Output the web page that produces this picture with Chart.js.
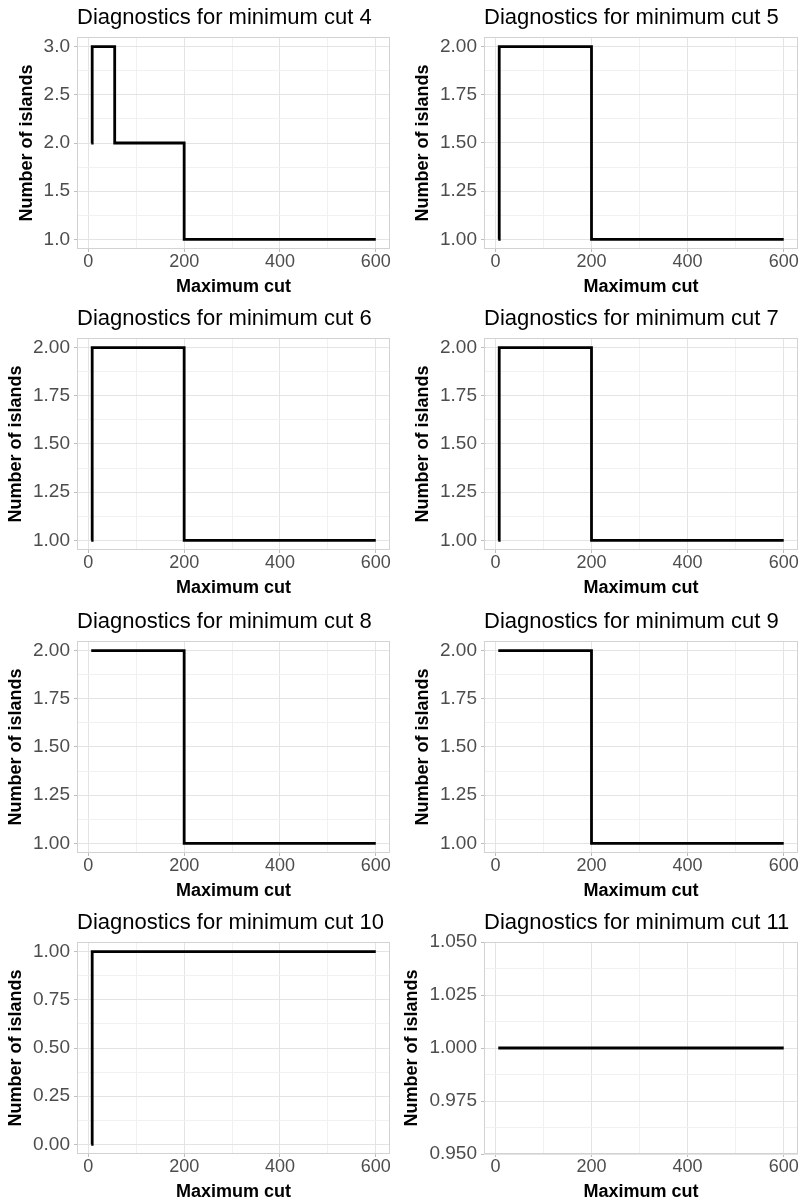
<!DOCTYPE html>
<html>
<head>
<meta charset="utf-8">
<script src="https://cdn.jsdelivr.net/npm/chart.js@4.4.1/dist/chart.umd.min.js"></script>
<style>
  html, body { margin: 0; padding: 0; background: #fff; }
  body { width: 805px; height: 1201px; position: relative; overflow: hidden; }
  canvas { position: absolute; }
</style>
</head>
<body>
<script>
// Data
const minCuts = [4, 5, 6, 7, 8, 9, 10, 11];
const maxCut = [6, 8, 55, 200, 600];
const islandsCut4 = [2, 3, 2, 1, 1];
const islandsCut5 = [1, 2, 2, 1, 1];
const islandsCut6 = [1, 2, 2, 1, 1];
const islandsCut7 = [1, 2, 2, 1, 1];
const islandsCut8 = [2, 2, 2, 1, 1];
const islandsCut9 = [2, 2, 2, 1, 1];
const islandsCut10 = [0, 1, 1, 1, 1];
const islandsCut11 = [1, 1, 1, 1, 1];

// Tick labels
const xTickLabels = ['0', '200', '400', '600'];
const yTicksCut4 = ['1.0', '1.5', '2.0', '2.5', '3.0'];
const yTicksOneTwo = ['1.00', '1.25', '1.50', '1.75', '2.00'];
const yTicksCut10 = ['0.00', '0.25', '0.50', '0.75', '1.00'];
const yTicksCut11 = ['0.950', '0.975', '1.000', '1.025', '1.050'];

const islandsByPanel = [islandsCut4, islandsCut5, islandsCut6, islandsCut7,
                        islandsCut8, islandsCut9, islandsCut10, islandsCut11];
const yTicksByPanel = [yTicksCut4, yTicksOneTwo, yTicksOneTwo, yTicksOneTwo,
                       yTicksOneTwo, yTicksOneTwo, yTicksCut10, yTicksCut11];

const FONT = "'Liberation Sans', Arial, sans-serif";
const X_TICK_SIZE = 18;
const Y_TICK_SIZE = 19;
const AXIS_TITLE_SIZE = 18;
const TITLE_SIZE = 22;
const ROW_TOPS = [0, 301, 604, 905];

const measureCtx = document.createElement('canvas').getContext('2d');
measureCtx.font = Y_TICK_SIZE + 'px ' + FONT;

// ggplot-style 5% expansion
function expandRange(values) {
    const lo = Math.min(...values), hi = Math.max(...values);
    if (hi === lo) return [lo * 0.95, hi * 1.05];
    const pad = (hi - lo) * 0.05;
    return [lo - pad, hi + pad];
}

// major ticks + minor ticks in between
function withMinor(major, lo, hi) {
    const all = major.slice();
    for (let i = 0; i < major.length - 1; i++) all.push((major[i] + major[i + 1]) / 2);
    const step = major[1] - major[0];
    all.push(major[0] - step / 2, major[major.length - 1] + step / 2);
    return all.filter(v => v >= lo - 1e-9 && v <= hi + 1e-9).sort((a, b) => a - b);
}

function isMajor(v, major) {
    return major.some(m => Math.abs(m - v) < 1e-9);
}

const panelFrame = {
    id: 'panelFrame',
    afterDatasetsDraw(chart) {
        const { ctx, chartArea: a } = chart;
        ctx.save();
        ctx.strokeStyle = '#D2D2D2';
        ctx.lineWidth = 1;
        ctx.strokeRect(Math.round(a.left) + 0.5, Math.round(a.top) + 0.5,
                       Math.round(a.right - a.left) - 1, Math.round(a.bottom - a.top) - 1);
        ctx.restore();
    }
};

function gridColor(major) {
    return c => (c.tick && isMajor(c.tick.value, major)) ? '#E4E4E4' : '#F1F1F1';
}
function tickColor(major) {
    return c => (c.tick && isMajor(c.tick.value, major)) ? '#BDBDBD' : 'rgba(0,0,0,0)';
}

function drawPanel(idx) {
    const col = idx % 2, row = Math.floor(idx / 2);
    const width = col === 0 ? 400 : 405;
    const plotLeft = col === 0 ? 77 : 84;
    const padRight = col === 0 ? 10 : 7;

    const canvas = document.createElement('canvas');
    canvas.width = width;
    canvas.height = 300;
    canvas.style.left = (col === 0 ? 0 : 400) + 'px';
    canvas.style.top = ROW_TOPS[row] + 'px';
    document.body.appendChild(canvas);

    const ys = islandsByPanel[idx];
    const yLabels = yTicksByPanel[idx];
    const yMajor = yLabels.map(Number);
    const xMajor = xTickLabels.map(Number);
    const [xMin, xMax] = expandRange(maxCut);
    const [yMin, yMax] = expandRange(ys);
    const xAll = withMinor(xMajor, xMin, xMax);
    const yAll = withMinor(yMajor, yMin, yMax);

    // y-axis title sits next to the widest label
    const labelW = Math.max(...yLabels.map(s => measureCtx.measureText(s).width));
    const titleCenter = plotLeft - 7 - labelW - 17;
    const yTitlePad = titleCenter - AXIS_TITLE_SIZE * 1.2 / 2;

    new Chart(canvas, {
        type: 'line',
        data: {
            datasets: [{
                data: maxCut.map((x, i) => ({ x: x, y: ys[i] })),
                borderColor: '#000000',
                borderWidth: 2.8,
                pointRadius: 0,
                stepped: true,
                fill: false
            }]
        },
        options: {
            responsive: false,
            animation: false,
            devicePixelRatio: 1,
            layout: { padding: { left: 0, right: padRight, top: 0, bottom: 0 } },
            plugins: {
                legend: { display: false },
                tooltip: { enabled: false },
                title: {
                    display: true,
                    text: 'Diagnostics for minimum cut ' + minCuts[idx],
                    align: 'start',
                    fullSize: false,
                    color: '#000000',
                    font: { family: FONT, size: TITLE_SIZE, weight: 'normal' },
                    padding: { top: 5, bottom: 37 - 5 - TITLE_SIZE * 1.2 }
                }
            },
            scales: {
                x: {
                    type: 'linear',
                    min: xMin,
                    max: xMax,
                    afterBuildTicks: s => { s.ticks = xAll.map(v => ({ value: v })); },
                    afterFit: s => { s.height = 51; s.paddingLeft = 0; s.paddingRight = 0; },
                    border: { display: false },
                    grid: { color: gridColor(xMajor), tickColor: tickColor(xMajor), tickLength: 3, lineWidth: 1 },
                    ticks: {
                        autoSkip: false,
                        maxRotation: 0,
                        padding: -1,
                        color: '#4D4D4D',
                        font: { family: FONT, size: X_TICK_SIZE },
                        callback: v => {
                            const i = xMajor.findIndex(m => Math.abs(m - v) < 1e-9);
                            return i >= 0 ? xTickLabels[i] : '';
                        }
                    },
                    title: {
                        display: true,
                        text: 'Maximum cut',
                        color: '#000000',
                        font: { family: FONT, size: AXIS_TITLE_SIZE, weight: 'bold' },
                        padding: { top: 0, bottom: 2 }
                    }
                },
                y: {
                    type: 'linear',
                    min: yMin,
                    max: yMax,
                    afterBuildTicks: s => { s.ticks = yAll.map(v => ({ value: v })); },
                    afterFit: s => { s.width = plotLeft; s.paddingTop = 0; s.paddingBottom = 0; },
                    border: { display: false },
                    grid: { color: gridColor(yMajor), tickColor: tickColor(yMajor), tickLength: 3, lineWidth: 1 },
                    ticks: {
                        autoSkip: false,
                        padding: 4,
                        color: '#4D4D4D',
                        font: { family: FONT, size: Y_TICK_SIZE },
                        callback: v => {
                            const i = yMajor.findIndex(m => Math.abs(m - v) < 1e-9);
                            return i >= 0 ? yLabels[i] : '';
                        }
                    },
                    title: {
                        display: true,
                        text: 'Number of islands',
                        color: '#000000',
                        font: { family: FONT, size: AXIS_TITLE_SIZE, weight: 'bold' },
                        padding: { top: yTitlePad, bottom: 0 }
                    }
                }
            }
        },
        plugins: [panelFrame]
    });
}

for (let i = 0; i < minCuts.length; i++) drawPanel(i);
</script>
</body>
</html>
